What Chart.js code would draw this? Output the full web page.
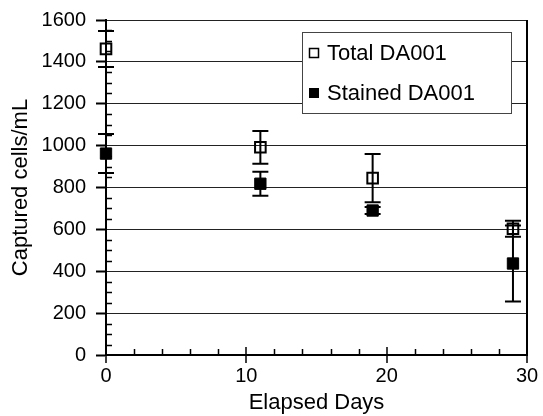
<!DOCTYPE html>
<html>
<head>
<meta charset="utf-8">
<script src="https://cdn.jsdelivr.net/npm/chart.js@4"></script>
<style>
  html, body { margin: 0; padding: 0; background: #fff; }
</style>
</head>
<body>
<canvas id="chart" width="543" height="416"></canvas>
<script>
// values
const days = [0, 11, 19, 29];
const totalCells = [1462, 992, 845, 603];
const totalErr = [86, 78, 115, 38];
const stainedCells = [962, 818, 690, 437];
const stainedErr = [93, 57, 17, 181];
const seriesNames = ['Total DA001', 'Stained DA001'];
const xTicksMajor = [0, 10, 20, 30];
const yTicksMajor = [0, 200, 400, 600, 800, 1000, 1200, 1400, 1600];

const FONT = '"Liberation Sans", Arial, Helvetica, sans-serif';

function toPoints(xs, ys, errs) {
    return xs.map((x, i) => ({ x: x, y: ys[i], err: errs[i] }));
}

// error bars, drawn under the markers
const errorBars = {
    id: 'errorBars',
    beforeDatasetsDraw(chart) {
        const ctx = chart.ctx;
        const xs = chart.scales.x, ys = chart.scales.y;
        ctx.save();
        ctx.strokeStyle = '#000';
        ctx.lineWidth = 2;
        chart.data.datasets.forEach(ds => {
            ds.data.forEach(p => {
                const px = xs.getPixelForValue(p.x);
                const top = ys.getPixelForValue(p.y + p.err);
                const bot = ys.getPixelForValue(p.y - p.err);
                ctx.beginPath();
                ctx.moveTo(px, top); ctx.lineTo(px, bot);
                ctx.moveTo(px - 8, top); ctx.lineTo(px + 8, top);
                ctx.moveTo(px - 8, bot); ctx.lineTo(px + 8, bot);
                ctx.stroke();
            });
        });
        ctx.restore();
    }
};

// minor ticks, inner major ticks, right frame, legend box
const frame = {
    id: 'frame',
    afterDraw(chart) {
        const ctx = chart.ctx;
        const a = chart.chartArea;
        const xs = chart.scales.x, ys = chart.scales.y;
        ctx.save();
        ctx.strokeStyle = '#000';
        ctx.lineWidth = 1.5;
        ctx.beginPath();
        for (let v = 2; v < 30; v += 2) {
            if (v % 10 === 0) continue;
            const px = Math.round(xs.getPixelForValue(v)) + 0.5;
            ctx.moveTo(px, a.bottom); ctx.lineTo(px, a.bottom - 6);
        }
        xTicksMajor.forEach(v => {
            const px = Math.round(xs.getPixelForValue(v));
            ctx.moveTo(px, a.bottom + 8); ctx.lineTo(px, a.bottom - 8);
        });
        for (let v = 50; v < 1600; v += 50) {
            if (v % 200 === 0) continue;
            const py = Math.round(ys.getPixelForValue(v)) + 0.5;
            ctx.moveTo(a.left, py); ctx.lineTo(a.left + 6, py);
        }
        ctx.stroke();
        ctx.lineWidth = 2;
        ctx.beginPath();
        ctx.moveTo(a.right, a.top); ctx.lineTo(a.right, a.bottom + 1);
        ctx.stroke();

        // legend
        const lx = 302, ly = 32, lw = 209, lh = 81;
        ctx.fillStyle = '#fff';
        ctx.fillRect(lx, ly, lw, lh);
        ctx.strokeStyle = '#444';
        ctx.lineWidth = 1;
        ctx.strokeRect(lx + 0.5, ly + 0.5, lw, lh);
        ctx.font = '22px ' + FONT;
        ctx.textBaseline = 'middle';
        chart.data.datasets.forEach((ds, i) => {
            const cy = ly + 21 + i * 40;
            if (ds.pointBackgroundColor === '#000') {
                ctx.fillStyle = '#000';
                ctx.fillRect(309, cy - 5, 10, 10);
            } else {
                ctx.strokeStyle = '#000';
                ctx.lineWidth = 1.5;
                ctx.strokeRect(309.5, cy - 4.5, 9, 9);
            }
            ctx.fillStyle = '#000';
            ctx.fillText(ds.label, 327, cy + 1);
        });
        ctx.restore();
    }
};

new Chart(document.getElementById('chart'), {
    type: 'scatter',
    data: {
        datasets: [
            {
                label: seriesNames[0],
                data: toPoints(days, totalCells, totalErr),
                pointStyle: 'rect',
                radius: 7.5,
                pointBackgroundColor: 'rgba(0,0,0,0)',
                pointBorderColor: '#000',
                pointBorderWidth: 2,
                clip: false
            },
            {
                label: seriesNames[1],
                data: toPoints(days, stainedCells, stainedErr),
                pointStyle: 'rect',
                radius: 8,
                pointBackgroundColor: '#000',
                pointBorderColor: '#000',
                pointBorderWidth: 1,
                clip: false
            }
        ]
    },
    options: {
        responsive: false,
        animation: false,
        layout: { padding: { left: 0, right: 16, top: 20, bottom: 0 } },
        plugins: {
            legend: { display: false },
            tooltip: { enabled: false }
        },
        scales: {
            x: {
                type: 'linear',
                min: 0,
                max: 30,
                afterBuildTicks: s => { s.ticks = xTicksMajor.map(v => ({ value: v })); },
                afterFit: s => { s.height = 61; s.paddingRight = 0; s.paddingLeft = 0; },
                ticks: { color: '#000', font: { size: 20, family: FONT }, padding: 9, maxRotation: 0,
                         callback: v => String(v) },
                grid: { drawOnChartArea: false, drawTicks: false },
                border: { color: '#000', width: 2 },
                title: { display: true, text: 'Elapsed Days', color: '#000', font: { size: 22, family: FONT }, padding: 0 }
            },
            y: {
                min: 0,
                max: 1600,
                afterBuildTicks: s => { s.ticks = yTicksMajor.map(v => ({ value: v })); },
                afterFit: s => { s.width = 106; s.paddingTop = 0; s.paddingBottom = 0; },
                ticks: { color: '#000', font: { size: 20, family: FONT }, padding: 10,
                         callback: v => String(v) },
                grid: { color: '#222', lineWidth: 1, drawTicks: true, tickLength: 10, tickColor: '#000', tickWidth: 2 },
                border: { color: '#000', width: 2 },
                title: { display: true, text: 'Captured cells/mL', color: '#000', font: { size: 22, family: FONT }, padding: { top: 8, bottom: 0 } }
            }
        }
    },
    plugins: [errorBars, frame]
});
</script>
</body>
</html>
